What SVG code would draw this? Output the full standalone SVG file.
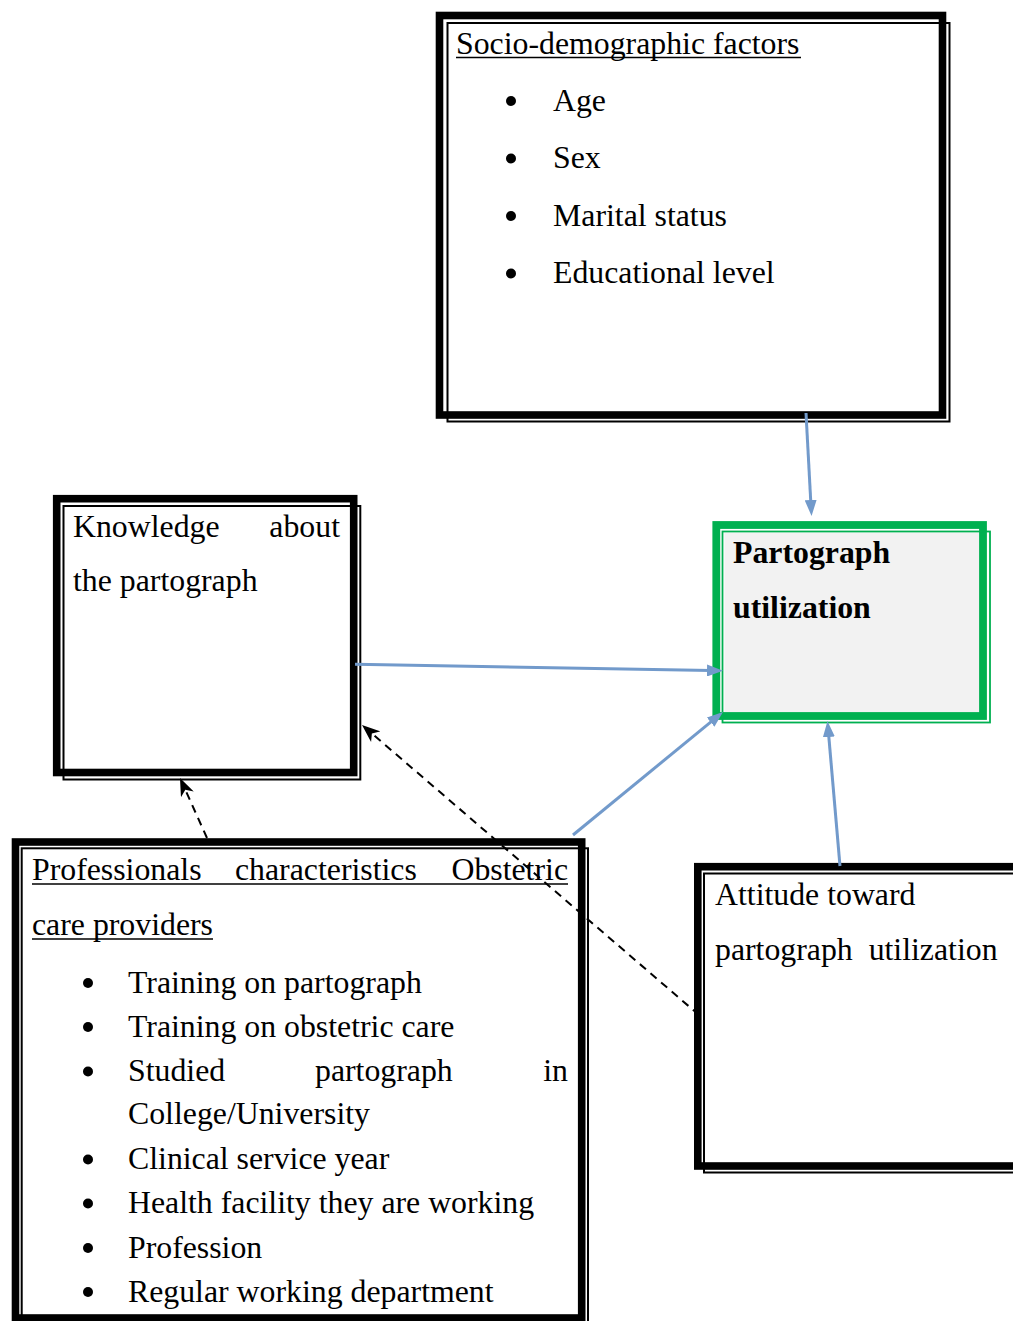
<svg xmlns="http://www.w3.org/2000/svg" width="1013" height="1321" viewBox="0 0 1013 1321">
<style>
text{font-family:"Liberation Serif","Times New Roman",serif;font-size:31.8px;fill:#000}
.b{font-weight:bold}
.thick{fill:none;stroke:#000;stroke-width:7.6}
.thin{fill:none;stroke:#000;stroke-width:2}
.gthick{fill:none;stroke:#00B050;stroke-width:7.8}
.gthin{fill:none;stroke:#00B050;stroke-width:1.8}
.ul{stroke:#000;stroke-width:1.6}
.dot{fill:#000}
.blue{fill:none;stroke:#729ACB;stroke-width:3;marker-end:url(#ab)}
.dash{fill:none;stroke:#000;stroke-width:2;stroke-dasharray:8 6;marker-end:url(#ak)}
</style>
<defs>
<marker id="ab" markerUnits="userSpaceOnUse" markerWidth="16" markerHeight="12" refX="4" refY="6" orient="auto">
<path d="M0,0 L16,6 L0,12 z" fill="#729ACB"/>
</marker>
<marker id="ak" markerUnits="userSpaceOnUse" markerWidth="18" markerHeight="14" refX="6" refY="7" orient="auto">
<path d="M0,0 L18,7 L0,14 L5,7 z" fill="#000"/>
</marker>
</defs>
<rect width="1013" height="1321" fill="#fff"/>

<g id="socio">
<rect x="439.5" y="15.5" width="503" height="399.5" fill="#fff" class="thick"/>
<rect x="447.5" y="23" width="502" height="398.5" class="thin"/>
<text x="456" y="53.5">Socio-demographic factors</text>
<line x1="456" y1="57.5" x2="801" y2="57.5" class="ul"/>
<circle cx="511" cy="101" r="5" class="dot"/>
<text x="553" y="110.5">Age</text>
<circle cx="511" cy="158.5" r="5" class="dot"/>
<text x="553" y="168">Sex</text>
<circle cx="511" cy="216" r="5" class="dot"/>
<text x="553" y="225.5">Marital status</text>
<circle cx="511" cy="273.5" r="5" class="dot"/>
<text x="553" y="283">Educational level</text>
</g>

<g id="partograph">
<rect x="724.5" y="533" width="254.5" height="179" fill="#F2F2F2"/>
<rect x="716.3" y="525" width="266.7" height="191" class="gthick"/>
<rect x="722.5" y="531.5" width="267.5" height="191" class="gthin"/>
<text x="733" y="563" class="b">Partograph</text>
<text x="733" y="618" class="b">utilization</text>
</g>

<g id="knowledge">
<rect x="56.7" y="498.7" width="297" height="273.8" fill="#fff" class="thick"/>
<rect x="63.5" y="506" width="296.8" height="273.5" class="thin"/>
<text x="73" y="536.5">Knowledge</text>
<text x="340" y="536.5" text-anchor="end">about</text>
<text x="73" y="590.5">the partograph</text>
</g>

<g id="professionals">
<rect x="15.5" y="842" width="566.2" height="476" fill="#fff" class="thick"/>
<rect x="21.7" y="848.3" width="566.3" height="476" class="thin"/>
<text x="32" y="880">Professionals</text>
<text x="235" y="880">characteristics</text>
<text x="568" y="880" text-anchor="end">Obstetric</text>
<line x1="32" y1="884" x2="568" y2="884" class="ul"/>
<text x="32" y="935">care providers</text>
<line x1="32" y1="939" x2="213" y2="939" class="ul"/>
<circle cx="88" cy="983" r="5" class="dot"/>
<text x="128" y="992.5">Training on partograph</text>
<circle cx="88" cy="1027" r="5" class="dot"/>
<text x="128" y="1036.5">Training on obstetric care</text>
<circle cx="88" cy="1071.5" r="5" class="dot"/>
<text x="128" y="1081">Studied</text>
<text x="315" y="1081">partograph</text>
<text x="568" y="1081" text-anchor="end">in</text>
<text x="128" y="1124">College/University</text>
<circle cx="88" cy="1159.5" r="5" class="dot"/>
<text x="128" y="1169">Clinical service year</text>
<circle cx="88" cy="1203.5" r="5" class="dot"/>
<text x="128" y="1213">Health facility they are working</text>
<circle cx="88" cy="1248" r="5" class="dot"/>
<text x="128" y="1257.5">Profession</text>
<circle cx="88" cy="1292" r="5" class="dot"/>
<text x="128" y="1301.5">Regular working department</text>
</g>

<g id="attitude">
<rect x="697.8" y="866.7" width="400" height="299.3" fill="#fff" class="thick"/>
<rect x="704" y="873.5" width="400" height="299" class="thin"/>
<text x="715" y="904.5">Attitude toward</text>
<text x="715" y="959.5" xml:space="preserve">partograph  utilization</text>
</g>

<g id="connectors">
<path d="M806,413 L810.9,504" class="blue"/>
<path d="M355,664.3 L711,670.5" class="blue"/>
<path d="M573,835 L713.7,719.6" class="blue"/>
<path d="M840,866 L828.5,733" class="blue"/>
<path d="M207,838 L184.9,788.9" class="dash"/>
<path d="M699,1015 L371.1,732.8" class="dash"/>
</g>
</svg>
